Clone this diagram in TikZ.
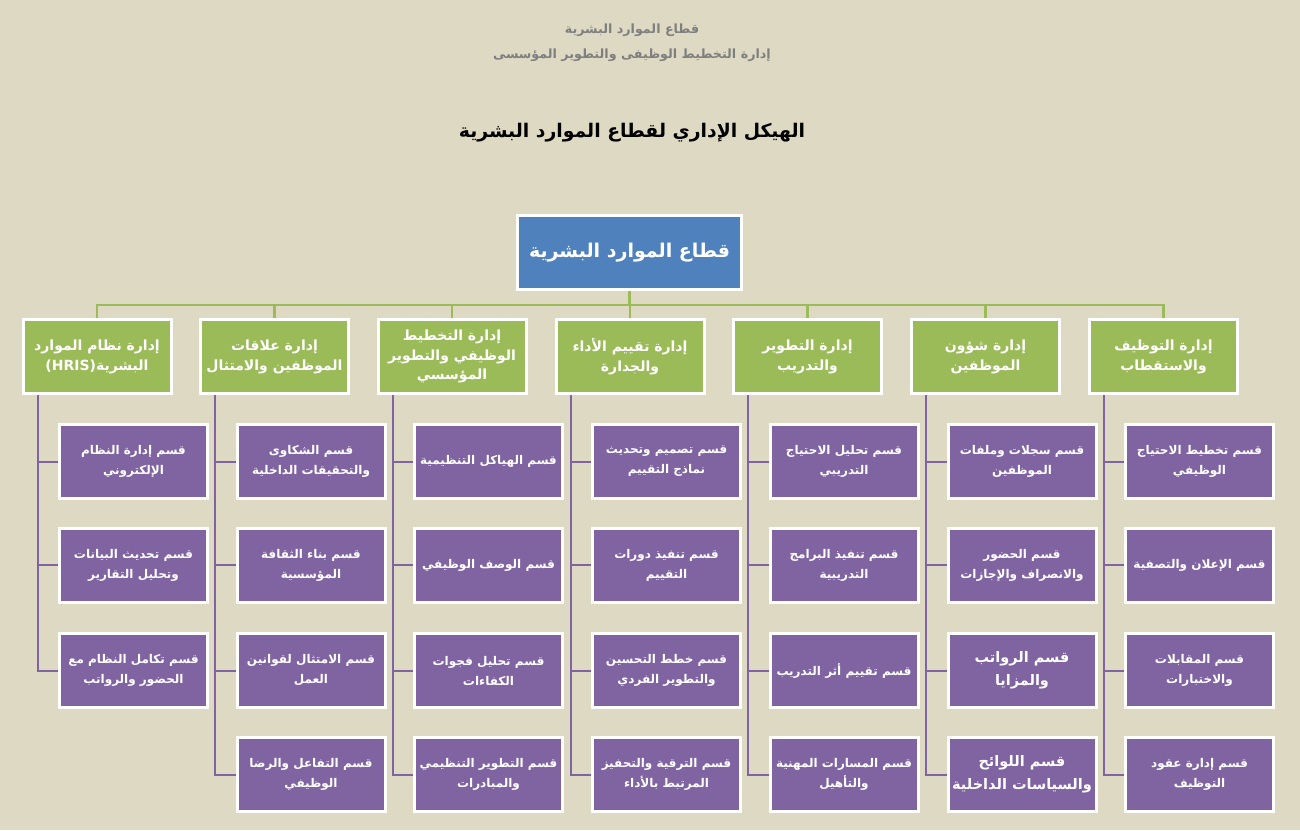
\documentclass[tikz,border=0pt]{standalone}
\usepackage{fontspec}
\usetikzlibrary{shadows}
\TeXXeTstate=1
\newfontfamily\ar[Script=Arabic]{DejaVu Sans}
\newcommand{\artxt}[1]{\beginR #1\endR}
\definecolor{bg}{HTML}{DDD9C3}
\definecolor{hrblue}{HTML}{4F81BD}
\definecolor{hrgreen}{HTML}{9BBB59}
\definecolor{hrpurple}{HTML}{8064A2}
\definecolor{hdrgray}{HTML}{7F7F7F}
\tikzset{
  box/.style={draw=white, line width=3pt, text=white, align=center, inner sep=1pt,
    drop shadow={shadow xshift=1.5pt, shadow yshift=-1.5pt, opacity=0.35, fill=black}},
  topbox/.style={box, fill=hrblue, minimum width=224pt, minimum height=74pt,
    font=\ar\bfseries\fontsize{19}{24}\selectfont},
  deptbox/.style={box, fill=hrgreen, minimum width=148pt, minimum height=74pt,
    font=\ar\bfseries\fontsize{14}{20}\selectfont},
  secbox/.style={box, fill=hrpurple, minimum width=148pt, minimum height=74pt,
    font=\ar\bfseries\fontsize{12}{20}\selectfont},
  bigsec/.style={secbox, font=\ar\bfseries\fontsize{14.5}{23}\selectfont},
  hdr/.style={text=hdrgray, font=\ar\bfseries\fontsize{12.7}{15}\selectfont, inner sep=0pt},
  ttl/.style={text=black, font=\ar\bfseries\fontsize{18.8}{24}\selectfont, inner sep=0pt},
  gline/.style={draw=hrgreen, line width=2.5pt},
  pline/.style={draw=hrpurple, line width=2pt},
}
\begin{document}
\begin{tikzpicture}[x=1pt,y=-1pt]
\fill[bg] (0,0) rectangle (1300,830);
\useasboundingbox (0,0) rectangle (1300,830);

\node[hdr] (h1) at (632,30) {\artxt{قطاع الموارد البشرية}};
\node[hdr] (h2) at (632,55) {\artxt{إدارة التخطيط الوظيفى والتطوير المؤسسى}};
\node[ttl] (title) at (632,133) {\artxt{الهيكل الإداري لقطاع الموارد البشرية}};

% bus points for the green connectors
\coordinate (bus) at (629.5,305);
\coordinate (busL) at (97,305);
\coordinate (busR) at (1163.5,305);

% top node
\node[topbox] (top) at (629.5,252.5) {\artxt{قطاع الموارد البشرية}};

% departments
\node[deptbox] (d1) at (97,356.5) {\artxt{إدارة نظام الموارد}\\\artxt{البشرية\beginL(HRIS)\endL}};
\node[deptbox] (d2) at (274.5,356.5) {\artxt{إدارة علاقات}\\\artxt{الموظفين والامتثال}};
\node[deptbox, font=\ar\bfseries\fontsize{14}{19.5}\selectfont] (d3) at (452,356.5) {\artxt{إدارة التخطيط}\\\artxt{الوظيفي والتطوير}\\\artxt{المؤسسي}};
\node[deptbox] (d4) at (630,356.5) {\artxt{إدارة تقييم الأداء}\\\artxt{والجدارة}};
\node[deptbox] (d5) at (807.5,356.5) {\artxt{إدارة التطوير}\\\artxt{والتدريب}};
\node[deptbox] (d6) at (985.5,356.5) {\artxt{إدارة شؤون}\\\artxt{الموظفين}};
\node[deptbox] (d7) at (1163.5,356.5) {\artxt{إدارة التوظيف}\\\artxt{والاستقطاب}};

% sections column 1
\node[secbox] (s11) at (133.5,461.5) {\artxt{قسم إدارة النظام}\\\artxt{الإلكتروني}};
\node[secbox] (s12) at (133.5,565) {\artxt{قسم تحديث البيانات}\\\artxt{وتحليل التقارير}};
\node[secbox] (s13) at (133.5,670.5) {\artxt{قسم تكامل النظام مع}\\\artxt{الحضور والرواتب}};
% column 2
\node[secbox] (s21) at (311,461.5) {\artxt{قسم الشكاوى}\\\artxt{والتحقيقات الداخلية}};
\node[secbox] (s22) at (311,565) {\artxt{قسم بناء الثقافة}\\\artxt{المؤسسية}};
\node[secbox] (s23) at (311,670.5) {\artxt{قسم الامتثال لقوانين}\\\artxt{العمل}};
\node[secbox] (s24) at (311,774.5) {\artxt{قسم التفاعل والرضا}\\\artxt{الوظيفي}};
% column 3
\node[secbox] (s31) at (488.5,461.5) {\artxt{قسم الهياكل التنظيمية}};
\node[secbox] (s32) at (488.5,565) {\artxt{قسم الوصف الوظيفي}};
\node[secbox] (s33) at (488.5,670.5) {\artxt{قسم تحليل فجوات}\\\artxt{الكفاءات}};
\node[secbox] (s34) at (488.5,774.5) {\artxt{قسم التطوير التنظيمي}\\\artxt{والمبادرات}};
% column 4
\node[secbox] (s41) at (666.5,461.5) {\artxt{قسم تصميم وتحديث}\\\artxt{نماذج التقييم}};
\node[secbox] (s42) at (666.5,565) {\artxt{قسم تنفيذ دورات}\\\artxt{التقييم}};
\node[secbox] (s43) at (666.5,670.5) {\artxt{قسم خطط التحسين}\\\artxt{والتطوير الفردي}};
\node[secbox] (s44) at (666.5,774.5) {\artxt{قسم الترقية والتحفيز}\\\artxt{المرتبط بالأداء}};
% column 5
\node[secbox] (s51) at (844,461.5) {\artxt{قسم تحليل الاحتياج}\\\artxt{التدريبي}};
\node[secbox] (s52) at (844,565) {\artxt{قسم تنفيذ البرامج}\\\artxt{التدريبية}};
\node[secbox] (s53) at (844,670.5) {\artxt{قسم تقييم أثر التدريب}};
\node[secbox] (s54) at (844,774.5) {\artxt{قسم المسارات المهنية}\\\artxt{والتأهيل}};
% column 6
\node[secbox] (s61) at (1022,461.5) {\artxt{قسم سجلات وملفات}\\\artxt{الموظفين}};
\node[secbox] (s62) at (1022,565) {\artxt{قسم الحضور}\\\artxt{والانصراف والإجازات}};
\node[bigsec] (s63) at (1022,670.5) {\artxt{قسم الرواتب}\\\artxt{والمزايا}};
\node[bigsec] (s64) at (1022,774.5) {\artxt{قسم اللوائح}\\\artxt{والسياسات الداخلية}};
% column 7
\node[secbox] (s71) at (1199.5,461.5) {\artxt{قسم تخطيط الاحتياج}\\\artxt{الوظيفي}};
\node[secbox] (s72) at (1199.5,565) {\artxt{قسم الإعلان والتصفية}};
\node[secbox] (s73) at (1199.5,670.5) {\artxt{قسم المقابلات}\\\artxt{والاختبارات}};
\node[secbox] (s74) at (1199.5,774.5) {\artxt{قسم إدارة عقود}\\\artxt{التوظيف}};

% green connectors
\draw[gline] (top.south) -- (bus);
\draw[gline] (busL) -- (busR);
\foreach \c in {1,...,7} \draw[gline] (bus) -| (d\c.north);

% purple connectors
\foreach \c/\n in {1/3,2/4,3/4,4/4,5/4,6/4,7/4} {
  \coordinate (v\c) at ([xshift=16pt]d\c.south west);
  \draw[pline] (v\c) |- (s\c\n.west);
  \foreach \r in {1,...,\n} \draw[pline] (v\c |- s\c\r.west) -- (s\c\r.west);
}
\end{tikzpicture}
\end{document}
